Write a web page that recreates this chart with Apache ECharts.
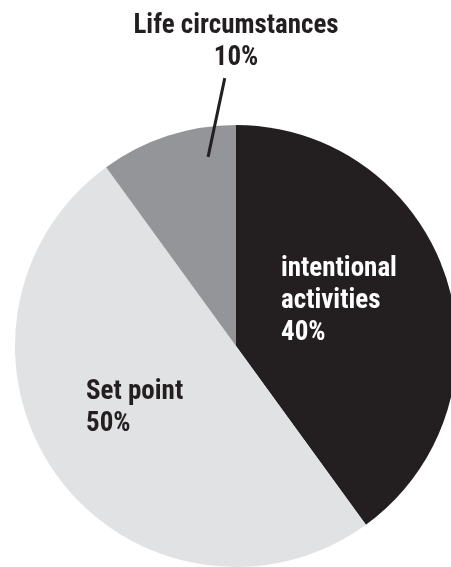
<!DOCTYPE html>
<html>
<head>
<meta charset="utf-8">
<script src="https://cdn.jsdelivr.net/npm/echarts@6/dist/echarts.min.js"></script>
<style>
html,body{margin:0;padding:0;background:#fff;}
#chart{width:451px;height:567px;}
</style>
</head>
<body>
<div id="chart"></div>
<script>
var categories = ['intentional\nactivities', 'Set point', 'Life circumstances'];
var values = [40, 50, 10];
var colors = ['#231f20', '#e1e2e3', '#939598'];

var FONT = "'Liberation Sans Narrow', 'Arial Narrow', 'Roboto Condensed', sans-serif";

var CX = 236, CY = 346, R = 221;

var labelSpots = [
  {x: 281, y: 301, align: 'left'},
  {x: 86, y: 408, align: 'left'},
  {x: 236, y: 42, align: 'center'}
];

// leader line of the small slice, in polar terms (angle clockwise from top, radius factor)
function polar(angDeg, rf) {
  var a = angDeg * Math.PI / 180;
  return [CX + Math.sin(a) * R * rf, CY - Math.cos(a) * R * rf];
}
var p0 = polar(351.6, 0.865);
var p1 = polar(357.6, 1.213);

var chart = echarts.init(document.getElementById('chart'), null, {renderer: 'canvas'});
chart.setOption({
  animation: false,
  graphic: [{
    type: 'line',
    z: 100,
    silent: true,
    shape: {x1: p0[0], y1: p0[1], x2: p1[0], y2: p1[1]},
    style: {stroke: '#231f20', lineWidth: 3}
  }],
  series: [{
    type: 'pie',
    center: [CX, CY],
    radius: R,
    startAngle: 90,
    clockwise: true,
    silent: true,
    emphasis: {disabled: true},
    labelLine: {show: false},
    data: categories.map(function (c, i) {
      return {
        name: c,
        value: values[i],
        itemStyle: {color: colors[i]},
        label: {
          position: i === 2 ? 'outside' : 'inside',
          color: i === 0 ? '#ffffff' : '#231f20',
          overflow: 'none'
        }
      };
    }),
    label: {
      show: true,
      formatter: '{b}\n{c}%',
      fontFamily: FONT,
      fontWeight: 'bold',
      fontSize: 27,
      lineHeight: 32,
      overflow: 'none'
    },
    labelLayout: function (p) {
      var s = labelSpots[p.dataIndex];
      return {x: s.x, y: s.y, align: s.align, verticalAlign: 'middle'};
    }
  }]
});
</script>
</body>
</html>
